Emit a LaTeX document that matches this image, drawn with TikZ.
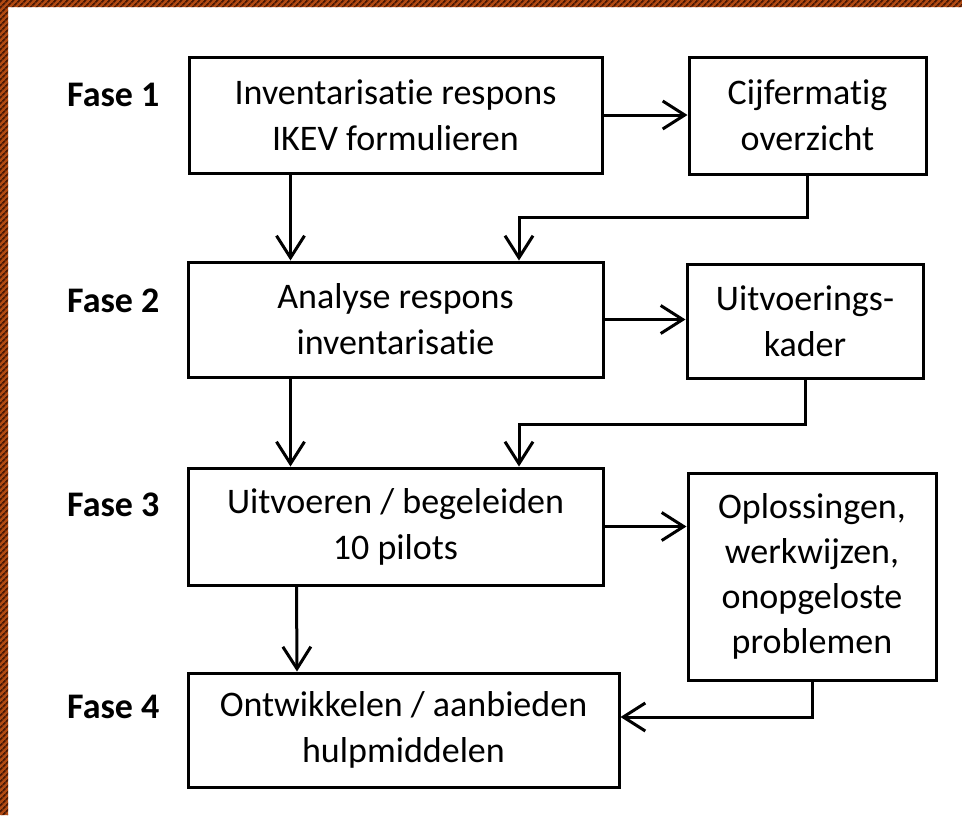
\documentclass[tikz,border=0pt]{standalone}
\usepackage{fontspec}
\setmainfont{Carlito}[Ligatures=NoCommon]
\usetikzlibrary{arrows.meta,patterns.meta}
\definecolor{frameorange}{HTML}{B14A12}
\definecolor{framedark}{HTML}{4B1A06}
\begin{document}
\begin{tikzpicture}[x=1pt,y=-1pt,
    box/.style={draw,line width=3pt,align=center,inner sep=0pt,font=\fontsize{36}{46}\selectfont},
    fase/.style={anchor=base west,inner sep=0pt,font=\fontsize{36}{46}\selectfont\bfseries},
    arr/.style={line width=3pt,-{Straight Barb[length=22pt,width=28pt]}}]
        \useasboundingbox (0,0) rectangle (962,815);
        % --- Hatched frame ---
        \path[fill=frameorange,postaction={pattern={Lines[angle=45,distance=4pt,line width=1.8pt]},pattern color=framedark}]
            (0,0) rectangle (962,7) (0,0) rectangle (8,815);
        % ---

        % --- Phase boxes ---
        \node[box,minimum width=413pt,minimum height=116pt] (A) at (395.5,115) {Inventarisatie respons\\IKEV formulieren};
        \node[box,minimum width=415pt,minimum height=115pt] (C) at (395.5,319.5) {Analyse respons\\inventarisatie};
        \node[box,minimum width=415pt,minimum height=117pt] (E) at (395.5,526.5) {Uitvoeren / begeleiden\\10 pilots};
        \node[box,minimum width=431pt,minimum height=114pt] (G) at (403.5,730) {Ontwikkelen / aanbieden\\hulpmiddelen};
        % ---

        % --- Result boxes ---
        \node[box,minimum width=237pt,minimum height=117pt] (B) at (807.5,115.5) {Cijfermatig\\overzicht};
        \node[box,minimum width=236pt,minimum height=114pt] (D) at (805,321) {Uitvoerings-\\kader};
        \node[box,minimum width=248pt,minimum height=207pt,font=\fontsize{36}{45}\selectfont] (F) at (812,576.5) {Oplossingen,\\werkwijzen,\\onopgeloste\\problemen};
        % ---

        % --- Phase labels ---
        \node[fase] (f1) at (67,106) {Fase 1};
        \node[fase] (f2) at (67,312) {Fase 2};
        \node[fase] (f3) at (67,516) {Fase 3};
        \node[fase] (f4) at (67,718) {Fase 4};
        % ---

        % --- Connectors ---
        \draw[arr] (A.east) -- (A.east -| B.west);
        \draw[arr] ([xshift=-105pt]A.south) -- ([xshift=-105pt]C.north);
        \draw[arr] (B.south) -- ++(0,42) -| ([xshift=123.5pt]C.north);
        \draw[arr] (C.east) -- (C.east -| D.west);
        \draw[arr] ([xshift=-105pt]C.south) -- ([xshift=-105pt]E.north);
        \draw[arr] (D.south) -- ++(0,45) -| ([xshift=123.5pt]E.north);
        \draw[arr] (E.east) -- (E.east -| F.west);
        \draw[arr] ([xshift=-99pt]E.south) -- ([xshift=-106.5pt]G.north);
        \draw[arr] (F.south) |- ([yshift=13pt]G.east);
        % ---
\end{tikzpicture}
\end{document}
